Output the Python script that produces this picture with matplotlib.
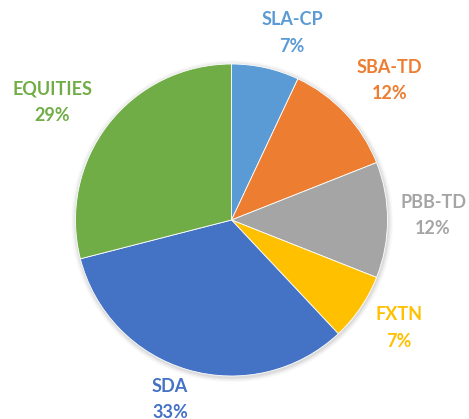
import matplotlib
matplotlib.use("Agg")
import matplotlib.pyplot as plt

categories = ["SLA-CP", "SBA-TD", "PBB-TD", "FXTN", "SDA", "EQUITIES"]
values = [7, 12, 12, 7, 33, 29]
pct_labels = ["7%", "12%", "12%", "7%", "33%", "29%"]
colors = ["#5B9BD5", "#ED7D31", "#A5A5A5", "#FFC000", "#4472C4", "#70AD47"]

W, H = 469, 419
CX, CY, R = 231.5, 220.0, 156.0

# label baselines in pixel coordinates (x center, name baseline, pct baseline)
label_pos = [(292, 25.3, 51.7), (389.5, 72.7, 99.0), (433, 208.3, 234.3),
             (399, 320.0, 346.7), (170, 391.7, 417.5), (52.5, 94.0, 120.7)]

def to_data(px, py):
    return (px - CX) / R, (CY - py) / R

fig = plt.figure(figsize=(W / 100, H / 100), dpi=100)
ax = fig.add_axes([0, 0, 1, 1])
x0, y1 = to_data(0, 0)
x1, y0 = to_data(W, H)
ax.set_xlim(x0, x1)
ax.set_ylim(y0, y1)
ax.set_aspect("equal")
ax.axis("off")

# soft shadow
for i, a in enumerate([0.05, 0.04, 0.03, 0.02]):
    c = plt.Circle((0.004, -0.008), 1 + 0.008 * (i + 1), color="black", alpha=a, lw=0, zorder=0)
    ax.add_patch(c)

ax.pie(values, colors=colors, startangle=90, counterclock=False, radius=1,
       center=(0, 0), frame=True, wedgeprops=dict(linewidth=0.6, edgecolor="white"))
ax.set_xlim(x0, x1)
ax.set_ylim(y0, y1)
ax.axis("off")

for name, pct, col, (px, b1, b2) in zip(categories, pct_labels, colors, label_pos):
    x, y = to_data(px, b1)
    ax.text(x, y, name, color=col, ha="center", va="baseline", fontsize=13,
            fontweight="bold", family="Lato")
    x, y = to_data(px, b2)
    ax.text(x, y, pct, color=col, ha="center", va="baseline", fontsize=13,
            fontweight="bold", family="Lato")

fig.savefig("out.png", dpi=100)
